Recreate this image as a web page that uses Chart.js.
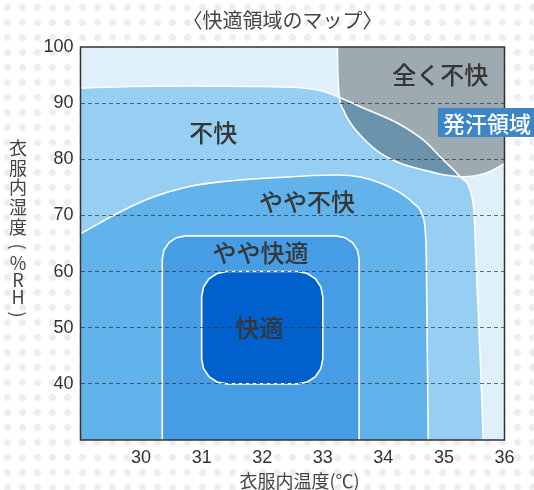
<!DOCTYPE html>
<html><head><meta charset="utf-8">
<script src="https://cdn.jsdelivr.net/npm/chart.js@4"></script>
<style>
html,body{margin:0;padding:0;background:#fff;}
#wrap{width:534px;height:490px;position:relative;
  background-color:#fff;
  background-image:radial-gradient(circle, #eeeeee 0, #eeeeee 3.2px, rgba(255,255,255,0) 3.8px);
  background-size:15px 15px;}
</style></head>
<body><div id="wrap"><canvas id="c" width="534" height="490"></canvas></div>
<script>
// ---- data (in chart units: 衣服内温度 ℃ / 衣服内湿度 %RH) ----
const xTickValues = [30, 31, 32, 33, 34, 35, 36];
const yTickValues = [40, 50, 60, 70, 80, 90, 100];

// 不快 : upper / right edge
const fukaiEdge = [[29.00,92.70],[29.82,92.97],[30.81,93.06],[31.80,92.97],[32.63,92.75],[33.05,92.0],[33.30,90.9],[33.67,89.14],[34.23,86.47],[34.66,83.44],[34.99,79.88],[35.27,76.86],[35.44,74.19],[35.50,70.09],[35.53,62.08],[35.58,49.62],[35.62,38.94],[35.65,30.00]];
// やや不快 : upper / right edge
const yayaFukaiEdge = [[29.00,66.71],[29.65,70.62],[30.20,73.30],[30.76,75.08],[31.30,75.97],[32.13,76.68],[33.24,77.21],[33.62,76.86],[33.95,75.79],[34.28,74.01],[34.49,72.23],[34.64,70.09],[34.69,67.42],[34.71,62.08],[34.74,30.00]];
// やや快適 : outline
const yayaKaitekiEdge = [[30.35,28],[30.35,62.25],[30.379,63.82],[30.461,65.15],[30.584,66.04],[30.73,66.35],[33.22,66.35],[33.366,66.04],[33.489,65.15],[33.571,63.82],[33.60,62.25],[33.60,28]];
// 快適 : outline
const kaitekiEdge = [[31,44.45],[31,55.55],[31.031,57.25],[31.121,58.70],[31.255,59.66],[31.413,60],[32.587,60],[32.745,59.66],[32.879,58.70],[32.969,57.25],[33,55.55],[33,44.45],[32.969,42.75],[32.879,41.30],[32.745,40.34],[32.587,40],[31.413,40],[31.255,40.34],[31.121,41.30],[31.031,42.75],[31,44.45]];
// 全く不快 : lower / left edge
const zenkuFukaiEdge = [[33.24,100],[33.25,95.0],[33.27,91.5],[33.34,88.8],[33.48,86.1],[33.70,83.4],[33.95,81.1],[34.28,79.3],[34.66,78.1],[35.02,77.2],[35.32,76.9],[35.71,77.6],[36.0,79.2]];

const labelTexts = ['全く不快', '不快', 'やや不快', 'やや快適', '快適'];
const labelX = [34.94, 31.19, 32.74, 31.97, 31.95];
const labelY = [95.0, 84.7, 72.5, 63.3, 50.0];
const sweatText = '発汗領域';
const sweatX = 35.71, sweatY = 86.56;

const chartTitle = '〈快適領域のマップ〉';
const xTitle = '衣服内温度(℃)';
const yTitleChars = ['衣','服','内','湿','度','(','%','R','H',')'];

// ---- build ----
const pts = a => a.map(p => ({x: p[0], y: p[1]}));
const fillSet = (d, color, fill, order, mono) => ({
  data: pts(d), showLine: true, pointRadius: 0, borderWidth: 0, borderColor: 'rgba(0,0,0,0)',
  backgroundColor: color, fill: fill, order: order, tension: 0,
  cubicInterpolationMode: mono ? 'monotone' : 'default'
});
const lineSet = (d, order, mono) => ({
  data: pts(d), showLine: true, pointRadius: 0, borderWidth: 1.6, borderColor: '#ffffff',
  backgroundColor: 'rgba(0,0,0,0)', fill: false, order: order, tension: 0,
  cubicInterpolationMode: mono ? 'monotone' : 'default'
});

const datasets = [
  fillSet(fukaiEdge, '#97cff2', 'start', 20, true),
  fillSet(yayaFukaiEdge, '#62b3eb', 'start', 19, true),
  fillSet(yayaKaitekiEdge, '#479de5', 'shape', 18, false),
  fillSet(kaitekiEdge, '#0061cc', 'shape', 17, false),
  fillSet(zenkuFukaiEdge, 'rgba(0,0,0,0.29)', 'end', 16, true),
  lineSet(fukaiEdge, 5, true),
  lineSet(yayaFukaiEdge, 4, true),
  lineSet(yayaKaitekiEdge, 3, false),
  lineSet(kaitekiEdge, 2, false),
  lineSet(zenkuFukaiEdge, 1, true)
];

const FONT_JP = '"Noto Sans CJK JP", "Noto Sans", sans-serif';
const FONT_NUM = '"Liberation Sans", Arial, sans-serif';

const deco = {
  id: 'deco',
  beforeDatasetsDraw(chart) {
    const {ctx, chartArea: a} = chart;
    ctx.save();
    ctx.fillStyle = '#dff0fb';
    ctx.fillRect(a.left, a.top, a.right - a.left, a.bottom - a.top);
    ctx.restore();
  },
  afterDraw(chart) {
    const {ctx, chartArea: a, scales: {x, y}} = chart;
    ctx.save();
    ctx.strokeStyle = '#3a322e';
    ctx.lineWidth = 1.5;
    ctx.strokeRect(a.left, a.top, a.right - a.left, a.bottom - a.top);

    ctx.textAlign = 'center';
    ctx.textBaseline = 'middle';
    ctx.fillStyle = '#363636';
    ctx.font = '500 24px ' + FONT_JP;
    labelTexts.forEach((t, i) => ctx.fillText(t, x.getPixelForValue(labelX[i]), y.getPixelForValue(labelY[i])));

    // 発汗領域 tag
    ctx.font = '500 22px ' + FONT_JP;
    const sx = x.getPixelForValue(sweatX), sy = y.getPixelForValue(sweatY);
    const w = ctx.measureText(sweatText).width + 10, h = 29;
    ctx.fillStyle = '#3d86c6';
    ctx.fillRect(sx - w / 2, sy - h / 2, w, h);
    ctx.fillStyle = '#ffffff';
    ctx.fillText(sweatText, sx, sy + 1);

    // titles
    ctx.fillStyle = '#444444';
    ctx.font = '20px ' + FONT_JP;
    ctx.fillText(chartTitle, (a.left + a.right) / 2 - 10, 20);
    ctx.font = '18px ' + FONT_JP;
    ctx.fillText(xTitle, (a.left + a.right) / 2 + 7, a.bottom + 41);

    // vertical y title
    let cy = 148;
    const cx = 18;
    yTitleChars.forEach(ch => {
      const cjk = /[\u3000-\u9fff]/.test(ch);
      if (ch === '(' || ch === ')') {
        ctx.save();
        ctx.translate(cx, cy);
        ctx.rotate(Math.PI / 2);
        ctx.fillText(ch, 0, 0);
        ctx.restore();
      } else {
        ctx.fillText(ch, cx, cy);
      }
      cy += cjk ? 19.7 : 17;
    });
    ctx.restore();
  }
};

new Chart(document.getElementById('c'), {
  type: 'line',
  data: {datasets},
  options: {
    responsive: false,
    animation: false,
    events: [],
    layout: {padding: {left: 0, right: 29.5, top: 47, bottom: 0}},
    plugins: {legend: {display: false}, tooltip: {enabled: false}, title: {display: false}},
    scales: {
      x: {
        type: 'linear', min: 29, max: 36,
        afterFit: s => { s.height = 50; },
        afterBuildTicks: s => { s.ticks = [29].concat(xTickValues).map(v => ({value: v})); },
        grid: {display: false, drawTicks: false},
        border: {display: false},
        ticks: {padding: 7, color: '#333', font: {family: FONT_NUM, size: 18},
                callback: v => (xTickValues.includes(v) ? String(v) : '')}
      },
      y: {
        type: 'linear', min: 30, max: 100,
        afterFit: s => { s.width = 80.5; },
        afterBuildTicks: s => { s.ticks = [30].concat(yTickValues).map(v => ({value: v})); },
        grid: {drawTicks: false, z: 1, lineWidth: 1,
               color: c => (c.tick && (c.tick.value === 30 || c.tick.value === 100)) ? 'rgba(0,0,0,0)' : 'rgba(45,60,75,0.75)'},
        border: {display: false, dash: [4, 3]},
        ticks: {padding: 7, color: '#333', font: {family: FONT_NUM, size: 18},
                callback: v => (yTickValues.includes(v) ? String(v) : '')}
      }
    }
  },
  plugins: [deco]
});
</script>
</body></html>
